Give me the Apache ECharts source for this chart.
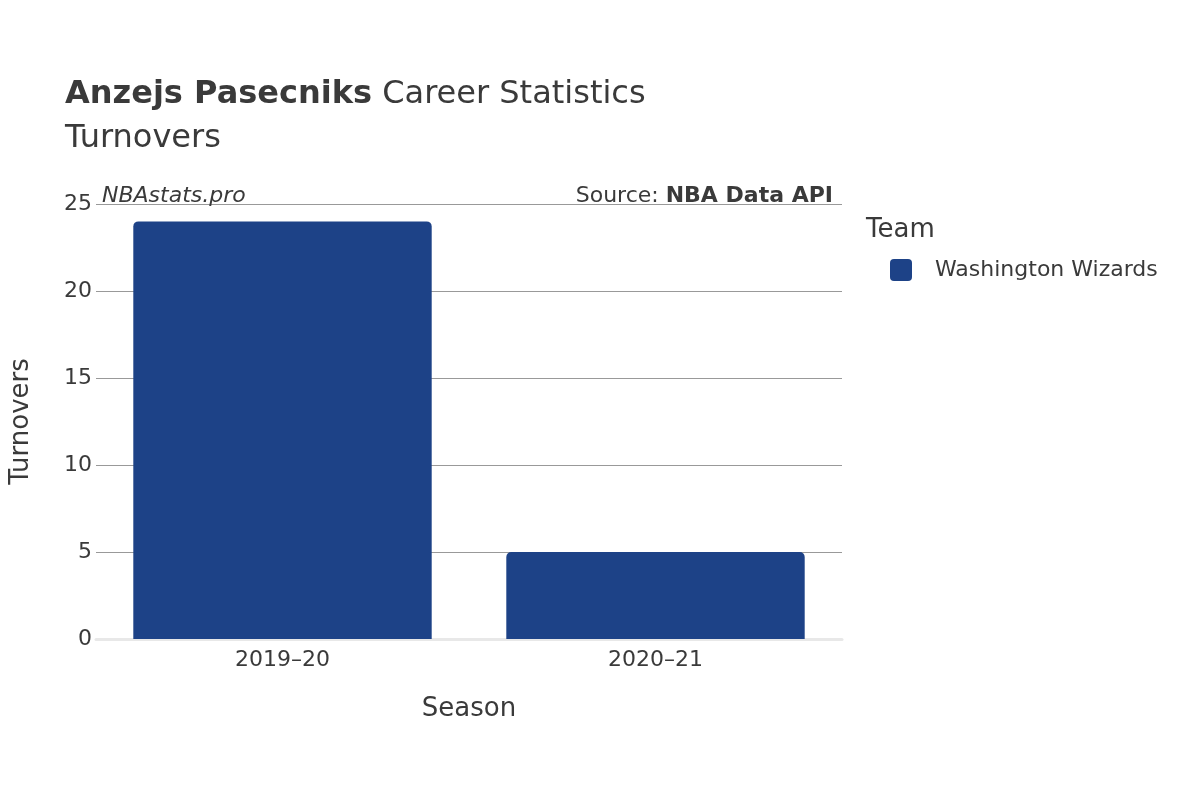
<!DOCTYPE html>
<html>
<head>
<meta charset="utf-8">
<script src="https://cdn.jsdelivr.net/npm/echarts@6/dist/echarts.min.js"></script>
<style>html,body{margin:0;padding:0;background:#fff}#chart{width:1200px;height:800px}</style>
</head>
<body>
<div id="chart"></div>
<script>
var seasons = ['2019–20', '2020–21'];
var turnovers = [24, 5];
var yTicks = [0, 25, 5];

var font = 'DejaVu Sans';
var chart = echarts.init(document.getElementById('chart'));
chart.setOption({
  textStyle: { fontFamily: font },
  title: [{
    text: '{b|Anzejs Pasecniks} Career Statistics\nTurnovers',
    left: 60, top: 68,
    textStyle: {
      fontFamily: font, fontSize: 32, color: '#3a3a3a', fontWeight: 'normal', lineHeight: 44,
      rich: { b: { fontFamily: font, fontSize: 32, fontWeight: 'bold', color: '#3a3a3a' } }
    }
  }, {
    text: 'NBAstats.pro',
    left: 97, top: 180,
    textStyle: { fontFamily: font, fontSize: 22, fontStyle: 'italic', fontWeight: 'normal', color: '#3a3a3a' }
  }, {
    text: 'Source: {b|NBA Data API}',
    right: 362, top: 180,
    textStyle: {
      fontFamily: font, fontSize: 22, fontWeight: 'normal', color: '#3a3a3a',
      rich: { b: { fontFamily: font, fontSize: 22, fontWeight: 'bold', color: '#3a3a3a' } }
    }
  }, {
    text: 'Team',
    left: 861, top: 212,
    textStyle: { fontFamily: font, fontSize: 26, fontWeight: 'normal', color: '#3a3a3a' }
  }],
  legend: {
    left: 885, top: 254, orient: 'vertical',
    itemWidth: 22, itemHeight: 22, itemGap: 10,
    icon: 'path://M4,0 H18 A4,4 0 0 1 22,4 V18 A4,4 0 0 1 18,22 H4 A4,4 0 0 1 0,18 V4 A4,4 0 0 1 4,0 Z',
    textStyle: { fontFamily: font, fontSize: 22, color: '#3a3a3a', padding: [0, 0, 0, 18] },
    data: ['Washington Wizards']
  },
  grid: { left: 93, right: 358, top: 204, bottom: 161 },
  xAxis: {
    type: 'category', data: seasons,
    name: 'Season', nameLocation: 'middle', nameGap: 57,
    nameTextStyle: { fontFamily: font, fontSize: 26, color: '#3a3a3a' },
    axisLine: { lineStyle: { color: '#e8e8e8', width: 3 } },
    axisTick: { show: false },
    axisLabel: { fontFamily: font, fontSize: 22, color: '#3a3a3a', margin: 10 }
  },
  yAxis: {
    type: 'value', min: yTicks[0], max: yTicks[1], interval: yTicks[2],
    name: 'Turnovers', nameLocation: 'middle', nameGap: 62,
    nameTextStyle: { fontFamily: font, fontSize: 26, color: '#3a3a3a' },
    axisLine: { show: false }, axisTick: { show: false },
    axisLabel: { fontFamily: font, fontSize: 22, color: '#3a3a3a', margin: 4 },
    splitLine: { lineStyle: { color: '#999', width: 1 } }
  },
  series: [{
    name: 'Washington Wizards', type: 'bar', data: turnovers,
    barWidth: '80%',
    itemStyle: { color: '#1d4287', borderRadius: [5, 5, 0, 0] }
  }]
});
</script>
</body>
</html>
